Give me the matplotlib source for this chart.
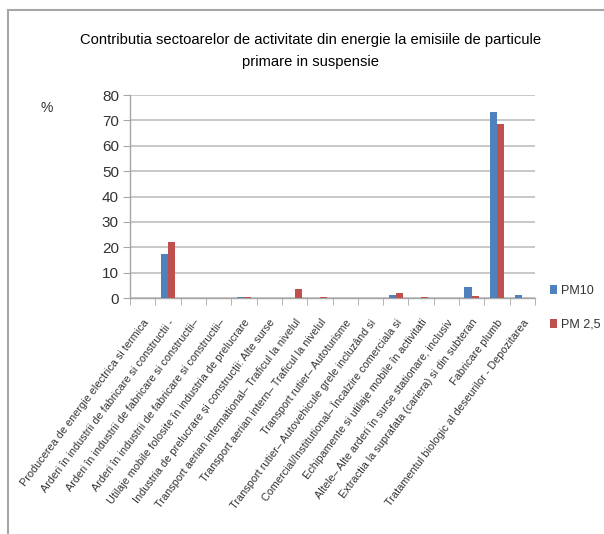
import matplotlib
matplotlib.use("Agg")
import matplotlib.pyplot as plt
import numpy as np
from matplotlib.lines import Line2D
from matplotlib.patches import Patch

categories = [
    "Producerea de energie electrica si termica",
    "Arderi în industrii de fabricare si constructii -",
    "Arderi în industrii de fabricare si constructii–",
    "Arderi în industrii de fabricare si constructii–",
    "Utilaje mobile folosite în industria de prelucrare",
    "Industria de prelucrare și construcții: Alte surse",
    "Transport aerian international– Traficul la nivelul",
    "Transport aerian intern– Traficul la nivelul",
    "Transport rutier– Autoturisme",
    "Transport rutier– Autovehicule grele incluzând si",
    "Comercial/Institutional– Încalzire comerciala si",
    "Echipamente si utilaje mobile în activitati",
    "Altele– Alte arderi în surse stationare, inclusiv",
    "Extractia la suprafata (cariera) si din subteran",
    "Fabricare plumb",
    "Tratamentul biologic al deseurilor - Depozitarea",
]
pm10 = [0, 17.5, 0, 0, 0.4, 0, 0, 0, 0, 0, 1.3, 0, 0, 4.5, 73.3, 1.0]
pm25 = [0, 22.0, 0, 0, 0.4, 0, 3.7, 0.4, 0, 0, 2.0, 0.4, 0, 0.7, 68.5, 0]
yticks = [0, 10, 20, 30, 40, 50, 60, 70, 80]

plt.rcParams['font.family'] = ['Liberation Sans', 'DejaVu Sans']

W, H = 604, 534
fig = plt.figure(figsize=(W / 100, H / 100), dpi=100)
ax = fig.add_axes([130 / W, 1 - 298 / H, (535 - 130) / W, (298 - 95) / H])

blue = '#4F81BD'
red = '#C0504D'
x = np.arange(len(categories))
bw = 1 / 3.5
ax.bar(x - bw / 2, pm10, bw, color=blue, label='PM10', zorder=3)
ax.bar(x + bw / 2, pm25, bw, color=red, label='PM 2,5', zorder=3)

ax.set_xlim(-0.5, len(categories) - 0.5)
ax.set_ylim(0, 80)
ax.set_yticks(yticks)
ax.yaxis.grid(True, color='#BFBFBF', linewidth=1.2, zorder=0)
for s in ['top', 'right']:
    ax.spines[s].set_visible(False)
for s in ['left', 'bottom']:
    ax.spines[s].set_color('#A6A6A6')
    ax.spines[s].set_linewidth(1.0)

ax.tick_params(axis='y', length=5, color='#A6A6A6', labelsize=11, pad=3, labelcolor='#333333')
ax.set_xticks(x)
ax.set_xticklabels(categories, rotation=53, ha='right', va='top',
                   rotation_mode='anchor', fontsize=7.8, color='#333333')
ax.tick_params(axis='x', length=0, pad=14)
ax.set_xticks(np.arange(-0.5, len(categories), 1), minor=True)
ax.tick_params(axis='x', which='minor', length=5, color='#A6A6A6')

fig.text(311 / W, 1 - 40 / H, "Contributia sectoarelor de activitate din energie la emisiile de particule",
         ha='center', va='center', fontsize=10.6, color='black')
fig.text(311 / W, 1 - 62 / H, "primare in suspensie",
         ha='center', va='center', fontsize=10.6, color='black')
fig.text(47 / W, 1 - 108 / H, "%", ha='center', va='center', fontsize=10, color='#333333')

handles = [Patch(facecolor=blue), Patch(facecolor=red)]
fig.legend(handles, ['PM10', 'PM 2,5'], loc='center left',
           bbox_to_anchor=(550 / W, 1 - 308 / H), frameon=False,
           fontsize=9, handlelength=0.55, handleheight=0.7, handletextpad=0.3,
           labelspacing=1.75, labelcolor='#333333', borderpad=0, borderaxespad=0)

# outer frame
fig.add_artist(Line2D([8 / W, 8 / W], [0, 1 - 10 / H], color='#A6A6A6', linewidth=1.5))
fig.add_artist(Line2D([8 / W, 1], [1 - 10 / H, 1 - 10 / H], color='#A6A6A6', linewidth=1.5))

fig.savefig('out.png', dpi=100, facecolor='white')
